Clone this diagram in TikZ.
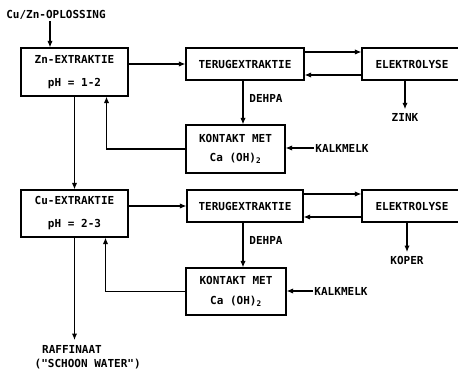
\documentclass[tikz,border=0pt]{standalone}
\usepackage{fontspec}
\setmonofont{DejaVu Sans Mono}
\usetikzlibrary{arrows.meta,positioning}

\begin{document}
\begin{tikzpicture}[
    x=0.03cm, y=-0.03cm,
    font=\ttfamily\bfseries\fontsize{9.4}{11}\selectfont,
    >={Latex[length=5.5pt,width=4.5pt]},
    unit/.style={draw=black, line width=1pt, align=center, inner sep=2pt},
    flow/.style={->, line width=1pt, draw=black},
    lbl/.style={inner sep=1pt}
]
\useasboundingbox (0,0) rectangle (458,376);

% zinc line
\node[lbl] (feed) at (56,15) {Cu/Zn-OPLOSSING};
\node[unit, minimum width=3.21cm, minimum height=1.44cm] (zn) at (74.5,72) {Zn-EXTRAKTIE\\[8.6pt]pH = 1-2};
\node[unit, minimum width=3.54cm, minimum height=0.96cm] (terug1) at (245,64) {TERUGEXTRAKTIE};
\node[unit, minimum width=3.0cm, minimum height=0.96cm] (elek1) at (412,64) {ELEKTROLYSE};
\node[unit, minimum width=2.97cm, minimum height=1.44cm] (kontakt1) at (235.5,149) {KONTAKT MET\\[5.8pt]Ca (OH)\textsubscript{2}};
\node[lbl] (kalk1) at (342,148) {KALKMELK};
\node[lbl, inner sep=3pt] (zink) at (405,117) {ZINK};

\draw[flow] (feed.south -| 50,0) -- (zn.north -| 50,0);
\draw[flow] (zn.east |- terug1.west) -- (terug1.west);
\draw[flow] ([yshift=0.36cm]terug1.east) -- ([yshift=0.36cm]terug1.east -| elek1.west);
\draw[flow] ([yshift=-0.33cm]elek1.west) -- ([yshift=-0.33cm]elek1.west -| terug1.east);
\draw[flow] (zink.north |- elek1.south) -- (zink.north);
\draw[flow] ([xshift=-0.06cm]terug1.south) -- node[pos=0.4, right, lbl, xshift=4pt] {DEHPA} ([xshift=-0.06cm]terug1.south |- kontakt1.north);
\draw[flow] (kalk1.west) -- (kalk1.west -| kontakt1.east);
\draw[flow] (kontakt1.west) -| ([xshift=0.96cm]zn.south);

% copper line
\node[unit, minimum width=3.21cm, minimum height=1.41cm] (cu) at (74.5,213.5) {Cu-EXTRAKTIE\\[8.6pt]pH = 2-3};
\node[unit, minimum width=3.48cm, minimum height=0.96cm] (terug2) at (245,206) {TERUGEXTRAKTIE};
\node[unit, minimum width=3.0cm, minimum height=0.96cm] (elek2) at (412,206) {ELEKTROLYSE};
\node[unit, minimum width=3.0cm, minimum height=1.41cm] (kontakt2) at (236,291.5) {KONTAKT MET\\[5.8pt]Ca (OH)\textsubscript{2}};
\node[lbl] (kalk2) at (341,291) {KALKMELK};
\node[lbl, inner sep=3pt] (koper) at (407,260) {KOPER};

\draw[flow] (zn) -- (cu);
\draw[flow] (cu.east |- terug2.west) -- (terug2.west);
\draw[flow] ([yshift=0.36cm]terug2.east) -- ([yshift=0.36cm]terug2.east -| elek2.west);
\draw[flow] ([yshift=-0.33cm]elek2.west) -- ([yshift=-0.33cm]elek2.west -| terug2.east);
\draw[flow] (koper.north |- elek2.south) -- (koper.north);
\draw[flow] ([xshift=-0.06cm]terug2.south) -- node[pos=0.4, right, lbl, xshift=4pt] {DEHPA} ([xshift=-0.06cm]terug2.south |- kontakt2.north);
\draw[flow] (kalk2.west) -- (kalk2.west -| kontakt2.east);
\draw[flow] (kontakt2.west) -| ([xshift=0.93cm]cu.south);

% raffinate
\node[lbl, inner sep=4pt] (raff) at (72,349) {RAFFINAAT};
\node[lbl, anchor=north west, xshift=-0.12cm] (schoon) at (raff.south west) {("SCHOON WATER")};
\draw[flow] (cu) -- (cu |- raff.north);
\end{tikzpicture}
\end{document}
